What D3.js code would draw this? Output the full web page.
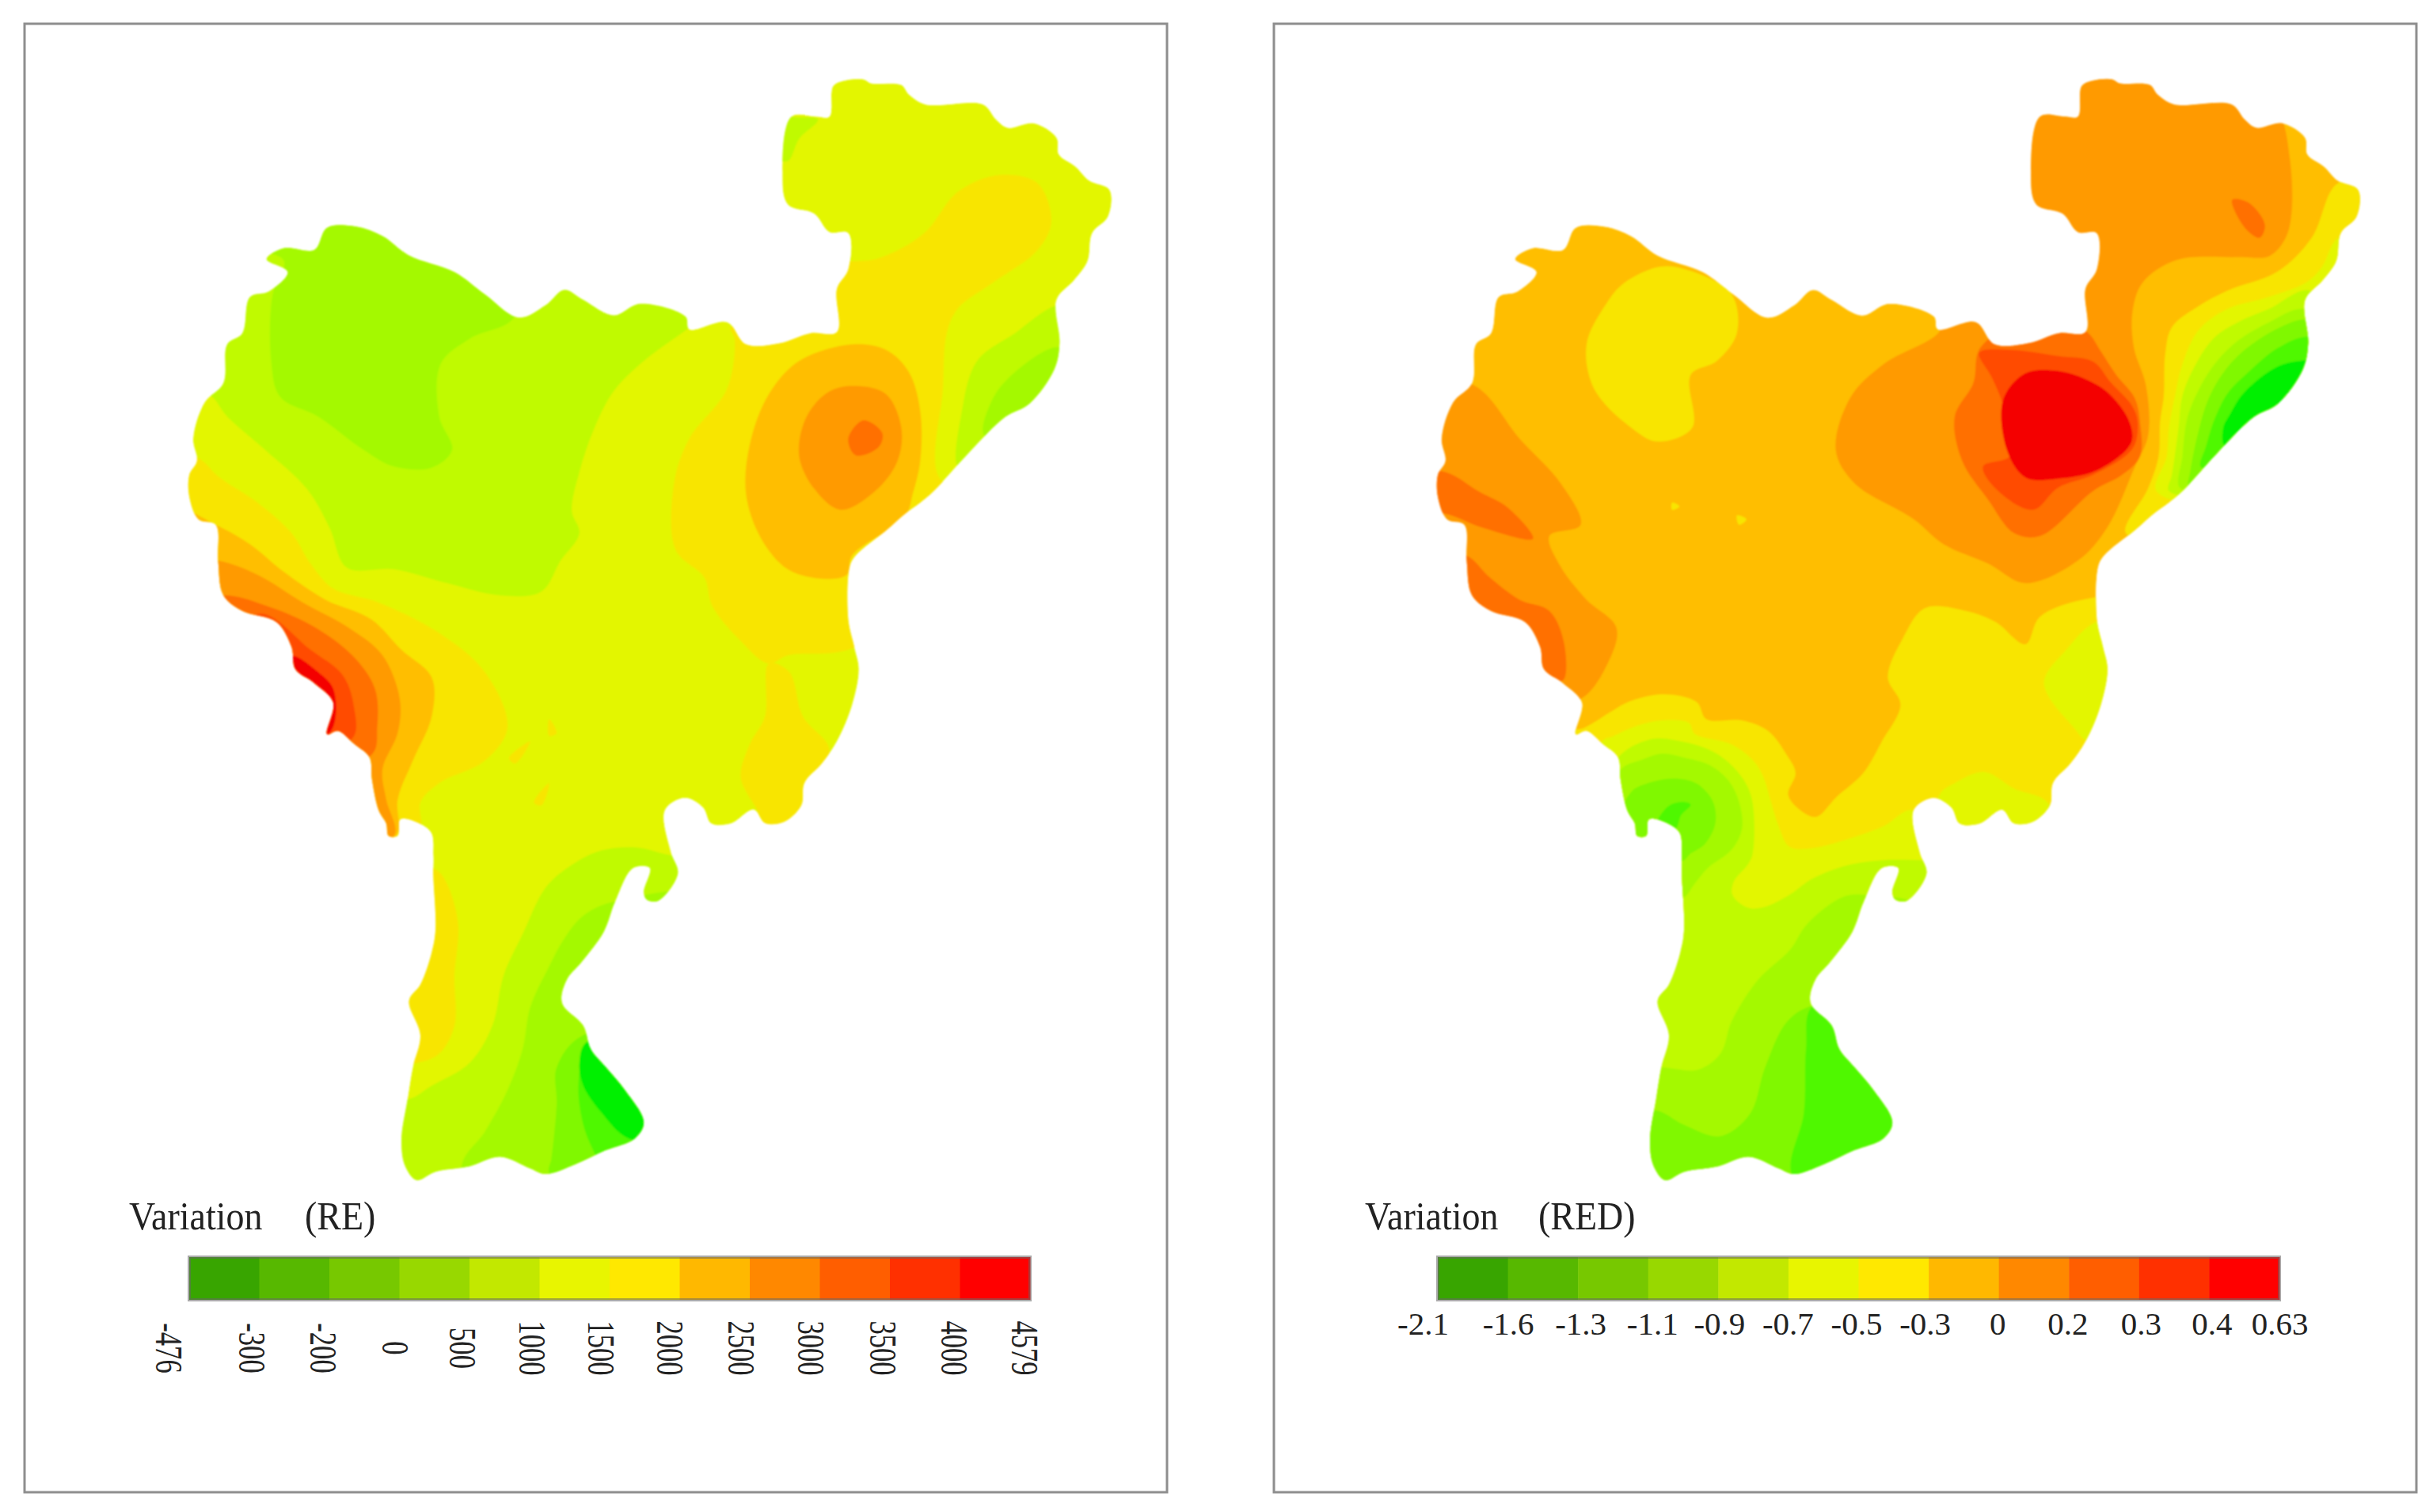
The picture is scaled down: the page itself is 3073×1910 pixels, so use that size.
<!DOCTYPE html>
<html>
<head>
<meta charset="utf-8">
<script src="https://cdn.jsdelivr.net/npm/d3@7"></script>
<style>
  html, body { margin: 0; background: #fff; }
  text { font-family: "Liberation Serif", serif; fill: #222; }
</style>
</head>
<body>
<div id="chart"></div>
<script>
// legend classes
var legendColors = ["#38a500","#57b800","#77c800","#98d800","#c2e800","#e8f500","#ffe800","#ffb800","#ff8800","#ff5e00","#ff3000","#ff0000"];
var mapColors = ["#00f000","#50f800","#80f800","#a4f900","#c0fa00","#e3f600","#f8e500","#ffbe00","#ff9a00","#ff7000","#ff4c00","#f40000"];
var reTicks = ["-476","-300","-200","0","500","1000","1500","2000","2500","3000","3500","4000","4579"];
var redTicks = ["-2.1","-1.6","-1.3","-1.1","-0.9","-0.7","-0.5","-0.3","0","0.2","0.3","0.4","0.63"];

// study area boundary, in map units
var outline = [[1100,155],[1115,145],[1140,143],[1150,150],[1190,153],[1200,170],[1222,188],[1298,188],[1315,215],[1330,230],[1365,222],[1395,248],[1398,278],[1420,300],[1438,325],[1465,342],[1463,390],[1442,420],[1436,470],[1418,505],[1395,540],[1399,618],[1392,665],[1359,727],[1327,751],[1278,817],[1233,884],[1215,905],[1195,925],[1170,955],[1130,1000],[1122,1020],[1120,1115],[1128,1165],[1134,1205],[1125,1270],[1105,1335],[1085,1375],[1062,1410],[1058,1450],[1035,1480],[1010,1482],[995,1458],[965,1483],[939,1483],[928,1454],[904,1437],[878,1459],[886,1535],[895,1573],[869,1622],[854,1620],[850,1606],[858,1563],[836,1563],[812,1624],[797,1678],[768,1732],[748,1765],[742,1806],[770,1847],[780,1889],[800,1922],[825,1963],[850,2021],[838,2050],[800,2071],[760,2096],[720,2114],[700,2104],[660,2083],[620,2100],[575,2110],[550,2125],[535,2100],[530,2054],[538,1980],[545,1922],[555,1864],[540,1802],[555,1773],[570,1715],[575,1674],[572,1574],[572,1540],[568,1497],[529,1475],[525,1505],[513,1505],[510,1483],[500,1459],[491,1402],[488,1364],[468,1340],[446,1316],[432,1322],[440,1265],[415,1230],[390,1205],[385,1165],[365,1120],[320,1100],[295,1072],[288,1010],[285,945],[262,935],[250,895],[250,855],[260,830],[255,790],[270,725],[295,690],[300,620],[320,600],[330,535],[355,525],[380,490],[352,467],[375,447],[415,450],[432,410],[470,408],[505,425],[540,460],[600,490],[640,530],[685,572],[720,550],[745,522],[770,540],[810,568],[845,547],[905,570],[910,593],[960,580],[985,620],[1030,618],[1070,600],[1105,598],[1105,520],[1120,485],[1120,420],[1095,418],[1075,385],[1040,368],[1033,310],[1045,210],[1078,210],[1095,210]];

// RE bands: [class, boundary], painted in order over the class 5 base
var reBase = 5;
var reBands = [
  [4, [[275,710],[300,750],[350,810],[405,880],[435,950],[458,1022],[520,1025],[590,1050],[660,1072],[715,1065],[740,1010],[765,960],[755,920],[765,850],[785,770],[810,705],[850,650],[905,595],[960,540],[900,350],[300,350],[200,700]]],
  [3, [[375,470],[360,530],[358,650],[370,715],[420,750],[480,810],[520,840],[570,842],[597,810],[580,750],[582,655],[620,610],[680,570],[690,400],[400,300],[340,440]]],
  [6, [[262,825],[290,860],[340,905],[385,960],[410,1015],[440,1060],[500,1085],[580,1140],[640,1210],[670,1310],[640,1370],[580,1410],[555,1445],[555,1490],[530,1510],[400,1500],[100,1000],[200,800]]],
  [7, [[285,945],[330,980],[375,1030],[430,1080],[490,1115],[530,1170],[570,1220],[570,1290],[545,1370],[525,1440],[525,1500],[500,1520],[350,1450],[150,1000],[200,900]]],
  [8, [[290,1010],[340,1035],[400,1085],[460,1130],[505,1180],[528,1260],[525,1320],[505,1385],[510,1440],[520,1505],[400,1520],[200,1100],[220,1000]]],
  [9, [[295,1072],[350,1090],[410,1125],[465,1180],[495,1240],[498,1310],[490,1360],[300,1400],[200,1100]]],
  [10, [[345,1105],[410,1170],[452,1215],[467,1270],[465,1330],[350,1350],[300,1150]]],
  [11, [[385,1180],[420,1210],[440,1240],[442,1300],[430,1325],[350,1300],[360,1190]]],
  [6, [[970,610],[960,700],[910,790],[890,870],[892,990],[930,1040],[940,1090],[975,1150],[1015,1195],[1040,1180],[1120,1170],[1200,1100],[1300,900],[1240,860],[1245,700],[1250,600],[1265,555],[1310,510],[1370,450],[1388,400],[1370,330],[1320,315],[1265,345],[1220,420],[1160,465],[1090,480],[1060,560],[965,590]]],
  [6, [[1015,1195],[1010,1290],[990,1340],[978,1400],[1000,1460],[1010,1500],[1050,1490],[1065,1430],[1095,1350],[1060,1290],[1042,1210]]],
  [4, [[1395,550],[1340,600],[1290,650],[1270,740],[1265,840],[1290,830],[1450,700],[1450,550]]],
  [3, [[1395,625],[1340,670],[1310,720],[1300,785],[1400,760],[1420,640]]],
  [4, [[1045,210],[1080,215],[1055,250],[1040,290],[1020,280],[1030,200]]],
  [7, [[1125,620],[1170,630],[1200,670],[1215,740],[1215,830],[1205,890],[1195,930],[1125,1000],[1118,1035],[1085,1042],[1040,1025],[1005,970],[985,890],[990,800],[1015,710],[1055,650]]],
  [8, [[1130,695],[1170,710],[1190,770],[1185,830],[1155,885],[1110,918],[1075,880],[1055,820],[1065,750],[1095,705]]],
  [9, [[1140,757],[1165,780],[1160,805],[1130,820],[1120,790]]],
  [6, [[725,1295],[735,1320],[725,1325]]],
  [6, [[700,1335],[680,1375],[672,1365]]],
  [6, [[725,1410],[715,1450],[705,1445]]],
  [6, [[575,1566],[590,1591],[605,1665],[600,1756],[600,1847],[580,1897],[550,1914],[480,1914],[480,1540]]],
  [4, [[890,1541],[840,1526],[790,1533],[750,1562],[720,1599],[690,1682],[665,1756],[650,1847],[620,1914],[570,1955],[538,1980],[450,1980],[450,2200],[950,2200],[950,1541]]],
  [3, [[810,1624],[770,1649],[745,1690],[725,1740],[700,1814],[690,1889],[670,1963],[640,2038],[610,2096],[620,2200],[950,2200],[950,1624]]],
  [2, [[770,1864],[735,1922],[735,1988],[728,2087],[725,2112],[800,2200],[950,2100],[900,1864]]],
  [1, [[775,1876],[765,1930],[765,1988],[780,2062],[850,2200],[950,2000],[900,1876]]],
  [0, [[775,1876],[765,1914],[770,1955],[795,2005],[830,2050],[900,2050],[900,1876]]]
];

// RED bands, traced on the right panel's own x grid
var redBase = 7;
var redBands = [
  [8, [[1100,100],[1300,120],[1360,200],[1375,280],[1378,380],[1370,428],[1348,461],[1306,463],[1224,468],[1178,508],[1164,561],[1166,627],[1182,694],[1185,784],[1167,841],[1130,950],[1090,1010],[1020,1050],[970,1015],[910,980],[870,935],[790,870],[765,810],[785,715],[830,655],[905,595],[900,560],[1000,560],[1090,570],[1000,350],[1000,200]]],
  [9, [[1298,360],[1320,365],[1342,405],[1335,428],[1315,410]]],
  [9, [[960,625],[950,690],[925,750],[935,830],[970,900],[1005,960],[1040,965],[1111,884],[1150,855],[1174,822],[1174,760],[1167,717],[1142,675],[1121,632],[1104,599],[1050,560]]],
  [10, [[958,635],[1000,630],[1064,641],[1111,651],[1135,689],[1164,732],[1171,760],[1164,808],[1111,855],[1064,878],[1030,918],[980,880],[963,840],[1000,820],[990,730],[975,680]]],
  [11, [[1020,672],[1064,668],[1100,682],[1132,708],[1160,760],[1162,798],[1118,846],[1064,862],[1020,860],[995,810],[990,720]]],
  [8, [[280,695],[340,790],[395,870],[422,945],[380,965],[395,1020],[430,1080],[470,1130],[460,1190],[420,1260],[350,1250],[200,1100],[150,850],[200,680]]],
  [9, [[240,850],[285,885],[325,915],[358,970],[290,950],[240,925],[180,920],[190,850]]],
  [9, [[268,1000],[300,1040],[340,1080],[380,1100],[400,1160],[398,1225],[370,1210],[340,1130],[200,1100],[230,1000]]],
  [6, [[530,480],[570,488],[625,530],[632,600],[605,650],[570,675],[572,770],[525,795],[490,770],[440,700],[430,620],[455,550],[480,510]]],
  [6, [[545,905],[555,912],[545,918]]],
  [6, [[632,928],[645,935],[635,945]]],
  [6, [[400,1320],[426,1311],[461,1283],[486,1264],[532,1250],[578,1264],[591,1295],[639,1297],[674,1316],[699,1359],[711,1392],[701,1430],[713,1454],[738,1471],[766,1435],[802,1392],[827,1335],[852,1269],[835,1220],[855,1150],[885,1095],[940,1100],[980,1120],[1020,1160],[1040,1110],[1115,1075],[1200,1075],[1200,1600],[400,1600]]],
  [5, [[451,1335],[465,1326],[497,1307],[532,1297],[568,1302],[575,1321],[624,1340],[653,1368],[667,1397],[678,1444],[688,1487],[703,1525],[734,1527],[781,1511],[830,1487],[868,1459],[900,1550],[700,1700],[430,1600]]],
  [5, [[905,1430],[925,1410],[965,1390],[1005,1420],[1050,1445],[1060,1520],[900,1520]]],
  [5, [[1115,1120],[1075,1170],[1045,1230],[1085,1310],[1105,1335],[1200,1300],[1200,1110]]],
  [4, [[472,1364],[490,1345],[522,1330],[557,1335],[593,1349],[621,1373],[642,1406],[653,1444],[653,1539],[646,1558],[628,1587],[626,1611],[646,1634],[667,1634],[703,1611],[734,1582],[781,1558],[827,1549],[887,1549],[950,1549],[950,2200],[450,2200],[450,1400]]],
  [3, [[475,1387],[504,1368],[532,1357],[561,1364],[596,1378],[621,1406],[635,1444],[639,1492],[625,1530],[593,1563],[575,1592],[561,1616],[532,1620],[461,1492]]],
  [2, [[490,1426],[511,1411],[546,1402],[578,1411],[600,1444],[603,1483],[589,1520],[568,1539],[561,1549],[532,1558],[472,1492]]],
  [1, [[532,1463],[543,1449],[561,1444],[570,1449],[557,1468],[550,1492],[539,1492],[525,1483]]],
  [3, [[530,1922],[580,1926],[610,1897],[625,1839],[660,1765],[703,1711],[727,1663],[773,1616],[802,1611],[900,1650],[900,2200],[450,2200],[450,1922]]],
  [2, [[525,2000],[560,2025],[610,2046],[650,2005],[670,1922],[700,1839],[735,1810],[850,1800],[900,2200],[450,2200],[450,2000]]],
  [1, [[735,1810],[725,1889],[722,2005],[705,2112],[750,2200],[950,2100],[900,1800]]],
  [6, [[1440,330],[1405,428],[1359,489],[1292,523],[1253,551],[1217,589],[1208,637],[1206,713],[1201,760],[1199,822],[1185,879],[1155,960],[1250,960],[1500,500],[1500,330]]],
  [5, [[1441,428],[1419,480],[1398,508],[1341,537],[1292,556],[1253,594],[1231,656],[1221,713],[1213,770],[1210,822],[1196,884],[1300,900],[1500,600],[1500,428]]],
  [4, [[1402,523],[1348,556],[1306,580],[1274,608],[1249,656],[1231,713],[1226,770],[1217,855],[1213,884],[1300,880],[1450,600]]],
  [3, [[1394,556],[1348,580],[1306,613],[1277,651],[1256,694],[1238,751],[1231,822],[1228,879],[1300,860],[1450,600]]],
  [2, [[1400,575],[1363,589],[1313,632],[1284,675],[1265,722],[1253,775],[1242,846],[1240,880],[1300,850],[1450,600]]],
  [1, [[1398,606],[1359,627],[1320,670],[1292,708],[1274,756],[1263,803],[1256,841],[1320,820],[1450,620]]],
  [0, [[1394,649],[1359,660],[1313,708],[1295,746],[1286,770],[1288,803],[1330,800],[1420,720],[1420,650]]]
];

var svg = d3.select("#chart").append("svg")
    .attr("width", 3073)
    .attr("height", 1910);

svg.append("defs").append("filter")
    .attr("id", "soft")
  .append("feGaussianBlur")
    .attr("stdDeviation", 1.1);

var yMap = d3.scaleLinear().domain([0, 1568]).range([0, 1100]);
var colorOf = d3.scaleOrdinal().domain(d3.range(12)).range(mapColors);

function drawPanel(p) {
    var g = svg.append("g");

    //frame
    g.append("rect")
        .attr("x", p.frame[0])
        .attr("y", 30)
        .attr("width", p.frame[1] - p.frame[0])
        .attr("height", 1855)
        .attr("fill", "white")
        .attr("stroke", "#8e8e8e")
        .attr("stroke-width", 3);

    var outlinePath = d3.line().x(d => p.xOutline(d[0])).y(d => yMap(d[1])).curve(d3.curveCatmullRomClosed.alpha(0.5));
    var bandPath = d3.line().x(d => p.xBand(d[0])).y(d => yMap(d[1])).curve(d3.curveCatmullRomClosed.alpha(0.5));

    svg.select("defs").append("clipPath")
        .attr("id", "clip-" + p.id)
      .append("path")
        .attr("d", outlinePath(outline));

    var map = g.append("g").attr("filter", "url(#soft)")
      .append("g").attr("clip-path", "url(#clip-" + p.id + ")");

    map.append("path")
        .attr("d", outlinePath(outline))
        .attr("fill", colorOf(p.base));

    map.selectAll("path.band")
        .data(p.bands)
        .enter()
        .append("path")
        .attr("class", "band")
        .attr("d", d => bandPath(d[1]))
        .attr("fill", d => colorOf(d[0]));

    //title
    g.append("text").attr("transform", "translate(" + p.titleX[0] + ",1553) scale(1,1.1)").attr("font-size", 46).text("Variation");
    g.append("text").attr("transform", "translate(" + p.titleX[1] + ",1553) scale(1,1.1)").attr("font-size", 46).text(p.unit);

    //legend bar
    var cells = d3.scaleBand().domain(d3.range(12)).range(p.bar);
    g.selectAll("rect.cell")
        .data(legendColors)
        .enter()
        .append("rect")
        .attr("class", "cell")
        .attr("x", (c, i) => cells(i))
        .attr("y", 1588)
        .attr("width", cells.bandwidth() + 0.5)
        .attr("height", 54)
        .attr("fill", c => c);
    g.append("rect")
        .attr("x", p.bar[0])
        .attr("y", 1588)
        .attr("width", p.bar[1] - p.bar[0])
        .attr("height", 54)
        .attr("fill", "none")
        .attr("stroke", "#666")
        .attr("stroke-opacity", 0.55)
        .attr("stroke-width", 4);

    //legend ticks
    var tickScale = d3.scalePoint().domain(p.ticks).range(p.bar);
    var axis = g.append("g")
        .attr("transform", "translate(0," + p.tickY + ")")
        .call(d3.axisBottom(tickScale).tickSize(0));
    axis.select(".domain").remove();
    axis.selectAll("text")
        .attr("y", 0)
        .attr("dy", "0.32em")
        .attr("font-family", "Liberation Serif")
        .attr("font-size", p.tickSize)
        .attr("text-anchor", "middle")
        .attr("fill", "#333")
        .attr("transform", (t, i) => "translate(" + p.tickDx[i] + ",0) " + p.tickTurn);
}

drawPanel({
    id: "re", unit: "(RE)", base: reBase, bands: reBands,
    frame: [31, 1474],
    xOutline: d3.scaleLinear().domain([0, 1568]).range([0, 1500]),
    xBand: d3.scaleLinear().domain([0, 1568]).range([0, 1500]),
    titleX: [163, 385], bar: [239, 1301],
    ticks: reTicks, tickY: 1703, tickSize: 48,
    tickDx: [-27,-11,-9,-7,-10,-11,-12,-14,-12,-13,-10,-9,-8],
    tickTurn: "rotate(90) scale(0.72,1)"
});

drawPanel({
    id: "red", unit: "(RED)", base: redBase, bands: redBands,
    frame: [1609, 3052],
    xOutline: d3.scaleLinear().domain([0, 1568]).range([1577, 3077]),
    xBand: d3.scaleLinear().domain([0, 1568]).range([1600, 3073]),
    titleX: [1724, 1943], bar: [1816, 2879],
    ticks: redTicks, tickY: 1673, tickSize: 41,
    tickDx: [-19,0,3,5,1,-1,-3,-5,-2,-2,2,3,0],
    tickTurn: ""
});
</script>
</body>
</html>
